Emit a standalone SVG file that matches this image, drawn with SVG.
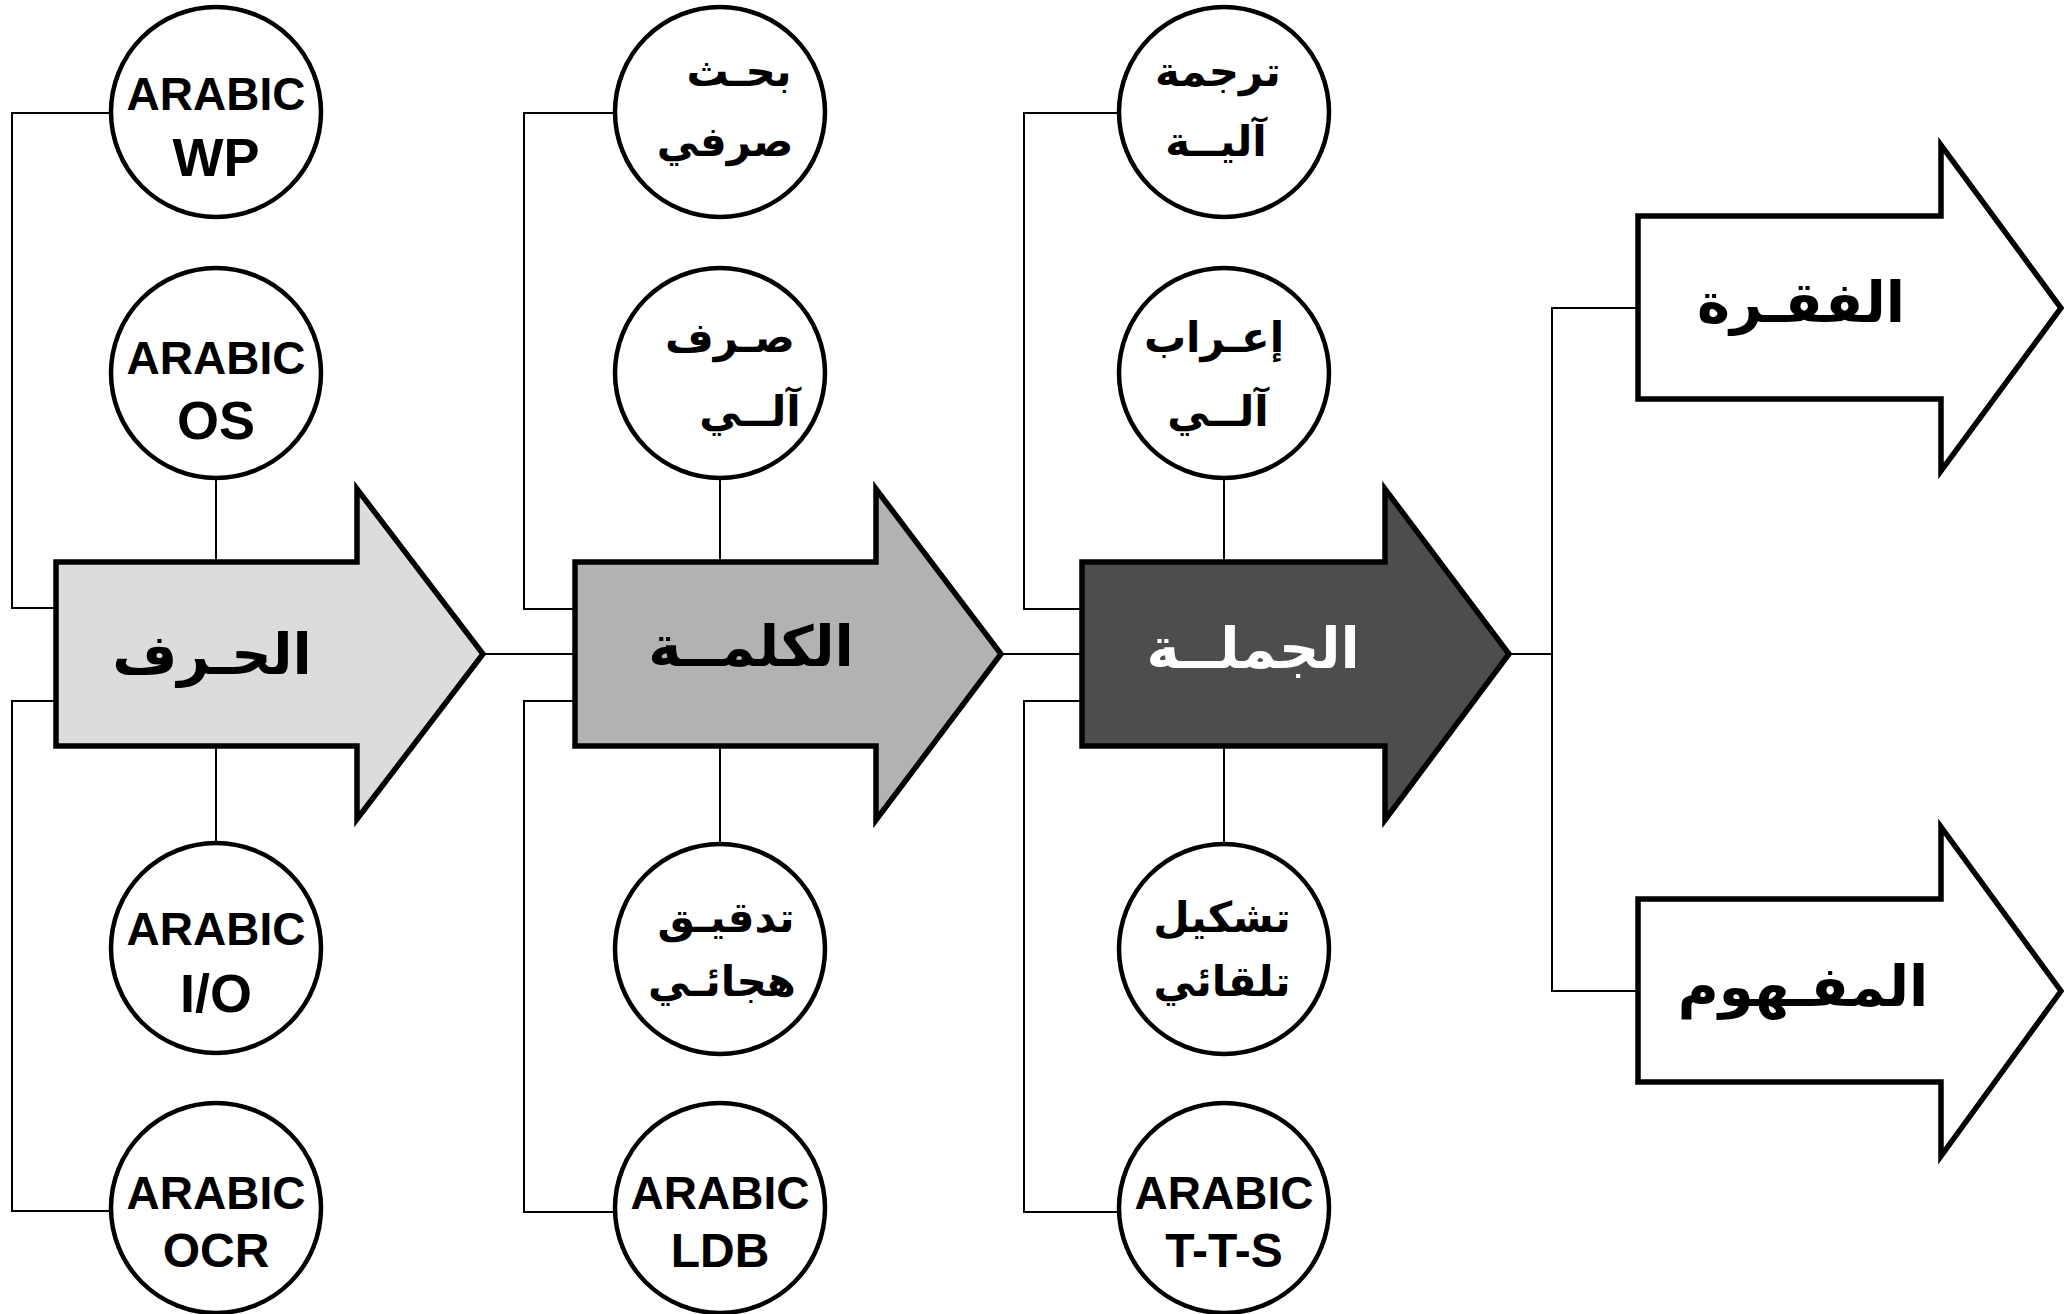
<svg xmlns="http://www.w3.org/2000/svg" width="2064" height="1314" viewBox="0 0 2064 1314">
<style>
.bg{fill:#fff}
.arrow{stroke:#000;stroke-width:5.5;stroke-linejoin:miter}
.circ{fill:#fff;stroke:#000;stroke-width:4.5}
.con{fill:none;stroke:#000;stroke-width:2}
.lat{font-family:"Liberation Sans",Arial,sans-serif;font-weight:bold;fill:#000;text-anchor:middle}
.ar{font-family:"DejaVu Sans","Noto Sans",sans-serif;font-weight:bold;fill:#000;text-anchor:middle}
.a1{font-size:46px}
.a2{font-size:54px}
.a3{font-size:48px}
.cs{font-size:42px}
.big{font-size:56px}
</style>
<rect class="bg" x="0" y="0" width="2064" height="1314"/>
<g id="connectors">
<polyline class="con" points="111,113 12,113 12,608 56,608"/>
<line class="con" x1="216" y1="478" x2="216" y2="562"/>
<line class="con" x1="216" y1="746" x2="216" y2="843"/>
<polyline class="con" points="56,701 12,701 12,1211 111,1211"/>
<line class="con" x1="483" y1="654" x2="575" y2="654"/>
<polyline class="con" points="615,113 524,113 524,609 575,609"/>
<line class="con" x1="720" y1="478" x2="720" y2="562"/>
<line class="con" x1="720" y1="746" x2="720" y2="844"/>
<polyline class="con" points="575,701 524,701 524,1212 615,1212"/>
<line class="con" x1="1001" y1="654" x2="1082" y2="654"/>
<polyline class="con" points="1119,113 1024,113 1024,609 1082,609"/>
<line class="con" x1="1224" y1="478" x2="1224" y2="562"/>
<line class="con" x1="1224" y1="746" x2="1224" y2="844"/>
<polyline class="con" points="1082,701 1024,701 1024,1212 1119,1212"/>
<line class="con" x1="1509" y1="654" x2="1552" y2="654"/>
<polyline class="con" points="1638,308 1552,308 1552,991 1638,991"/>
</g>
<g id="arrow-harf">
<polygon class="arrow" fill="#dcdcdc" points="56,562 357,562 357,489 483,654 357,819 357,746 56,746"/>
<text class="ar big" x="212" y="674">الحـرف</text>
</g>
<g id="arrow-kalima">
<polygon class="arrow" fill="#b2b2b2" points="575,562 876,562 876,489 1001,654 876,820 876,746 575,746"/>
<text class="ar big" x="751" y="666">الكلمــة</text>
</g>
<g id="arrow-jumla">
<polygon class="arrow" fill="#4d4d4d" points="1082,562 1385,562 1385,489 1509,654 1385,820 1385,746 1082,746"/>
<text class="ar big" x="1253" y="668" style="fill:#fff">الجملــة</text>
</g>
<g id="arrow-faqra">
<polygon class="arrow" fill="#fff" points="1638,216 1941,216 1941,145 2061,308 1941,471 1941,399 1638,399"/>
<text class="ar big" x="1801" y="322">الفقـرة</text>
</g>
<g id="arrow-mafhoom">
<polygon class="arrow" fill="#fff" points="1638,899 1941,899 1941,827 2061,991 1941,1156 1941,1082 1638,1082"/>
<text class="ar big" x="1803" y="1006">المفـهوم</text>
</g>
<g id="c-wp">
<circle class="circ" cx="216" cy="112" r="105"/>
<text class="lat a1" x="216" y="110">ARABIC</text>
<text class="lat a2" x="216" y="176">WP</text>
</g>
<g id="c-os">
<circle class="circ" cx="216" cy="373" r="105"/>
<text class="lat a1" x="216" y="374">ARABIC</text>
<text class="lat a2" x="216" y="439">OS</text>
</g>
<g id="c-io">
<circle class="circ" cx="216" cy="948" r="105"/>
<text class="lat a1" x="216" y="945">ARABIC</text>
<text class="lat a2" x="216" y="1012">I/O</text>
</g>
<g id="c-ocr">
<circle class="circ" cx="216" cy="1208" r="105"/>
<text class="lat a1" x="216" y="1209">ARABIC</text>
<text class="lat a3" x="216" y="1267">OCR</text>
</g>
<g id="c-bahth">
<circle class="circ" cx="720" cy="112" r="105"/>
<text class="ar cs" x="739" y="86">بحـث</text>
<text class="ar cs" x="725" y="156">صرفي</text>
</g>
<g id="c-sarf">
<circle class="circ" cx="720" cy="373" r="105"/>
<text class="ar cs" x="730" y="352">صـرف</text>
<text class="ar cs" x="750" y="426">آلــي</text>
</g>
<g id="c-tadqeeq">
<circle class="circ" cx="720" cy="949" r="105"/>
<text class="ar cs" x="726" y="932">تدقيـق</text>
<text class="ar cs" x="722" y="996">هجائـي</text>
</g>
<g id="c-ldb">
<circle class="circ" cx="720" cy="1208" r="105"/>
<text class="lat a1" x="720" y="1209">ARABIC</text>
<text class="lat a3" x="720" y="1267">LDB</text>
</g>
<g id="c-tarjama">
<circle class="circ" cx="1224" cy="112" r="105"/>
<text class="ar cs" x="1218" y="86">ترجمة</text>
<text class="ar cs" x="1216" y="156">آليــة</text>
</g>
<g id="c-irab">
<circle class="circ" cx="1224" cy="373" r="105"/>
<text class="ar cs" x="1214" y="352">إعـراب</text>
<text class="ar cs" x="1218" y="426">آلــي</text>
</g>
<g id="c-tashkeel">
<circle class="circ" cx="1224" cy="949" r="105"/>
<text class="ar cs" x="1222" y="932">تشكيل</text>
<text class="ar cs" x="1222" y="996">تلقائي</text>
</g>
<g id="c-tts">
<circle class="circ" cx="1224" cy="1208" r="105"/>
<text class="lat a1" x="1224" y="1209">ARABIC</text>
<text class="lat a3" x="1224" y="1267">T-T-S</text>
</g>
</svg>
